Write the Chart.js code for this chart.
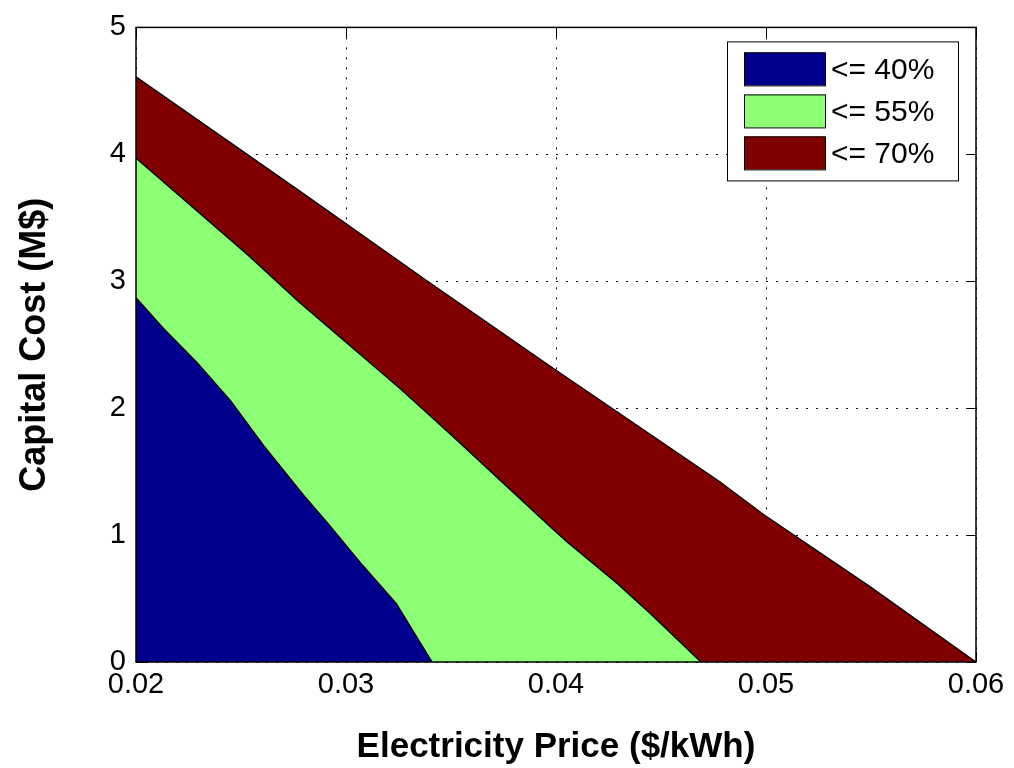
<!DOCTYPE html>
<html>
<head>
<meta charset="utf-8">
<title>Capital Cost vs Electricity Price</title>
<script src="https://cdn.jsdelivr.net/npm/chart.js@4.4.1/dist/chart.umd.min.js"></script>
<style>
    html, body { margin: 0; padding: 0; background: #fff; }
    .chart-container { width: 1014px; height: 768px; position: relative; }
</style>
</head>
<body>

<div class="chart-container">
    <canvas id="chart"></canvas>
</div>

<script>

// contour boundaries (x = $/kWh, y = M$)
const blueX = [ 0.02, 0.0213, 0.0229, 0.0245, 0.0261, 0.028, 0.0292, 0.0308, 0.0324, 0.0341 ];
const blueY = [ 2.87, 2.63, 2.36, 2.06, 1.70, 1.31, 1.08, 0.76, 0.46, 0 ];

const greenX = [ 0.02, 0.0253, 0.0278, 0.0326, 0.035, 0.0397, 0.0405, 0.0429, 0.0445, 0.0469 ];
const greenY = [ 3.97, 3.21, 2.83, 2.15, 1.79, 1.07, 0.95, 0.62, 0.38, 0 ];

const redX = [ 0.02, 0.0278, 0.0338, 0.0399, 0.0478, 0.0499, 0.0549, 0.06 ];
const redY = [ 4.61, 3.71, 3.01, 2.31, 1.42, 1.16, 0.60, 0 ];

const seriesLabels = [ '<= 40%', '<= 55%', '<= 70%' ];

const xTicks = [ 0.02, 0.03, 0.04, 0.05, 0.06 ];
const xTickLabels = [ '0.02', '0.03', '0.04', '0.05', '0.06' ];
const yTicks = [ 0, 1, 2, 3, 4, 5 ];
const yTickLabels = [ '0', '1', '2', '3', '4', '5' ];

const FONT = 'Arial, "Liberation Sans", sans-serif';

function toPoints ( xs, ys ) {
    return xs.map( ( x, i ) => ( { x, y: ys[ i ] } ) );
}

// matlab style frame: inward ticks under the patches, box on top
const framePlugin = {
    id: 'frame',
    beforeDatasetsDraw ( chart ) {
        const { ctx, chartArea: a, scales } = chart;
        const len = 10;
        ctx.save();
        ctx.strokeStyle = '#000';
        ctx.lineWidth = 1;
        ctx.beginPath();
        scales.x.ticks.forEach( t => {
            const px = Math.round( scales.x.getPixelForValue( t.value ) ) + 0.5;
            ctx.moveTo( px, a.bottom ); ctx.lineTo( px, a.bottom - len );
            ctx.moveTo( px, a.top ); ctx.lineTo( px, a.top + len );
        } );
        scales.y.ticks.forEach( t => {
            const py = Math.round( scales.y.getPixelForValue( t.value ) ) + 0.5;
            ctx.moveTo( a.left, py ); ctx.lineTo( a.left + len, py );
            ctx.moveTo( a.right, py ); ctx.lineTo( a.right - len, py );
        } );
        ctx.stroke();
        ctx.restore();
    },
    afterDatasetsDraw ( chart ) {
        const { ctx, chartArea: a } = chart;
        ctx.save();
        ctx.strokeStyle = '#000';
        ctx.lineWidth = 1.5;
        ctx.strokeRect( a.left, a.top, a.right - a.left, a.bottom - a.top );
        ctx.restore();
    }
};

// legend box inside the axes, top right
const boxLegendPlugin = {
    id: 'boxLegend',
    afterDraw ( chart ) {
        const { ctx, chartArea: a } = chart;
        const w = 231, h = 139;
        const left = a.right - 18 - w;
        const top = a.top + 14;
        ctx.save();
        ctx.fillStyle = '#fff';
        ctx.fillRect( left, top, w, h );
        ctx.strokeStyle = '#000';
        ctx.lineWidth = 1;
        ctx.strokeRect( left + 0.5, top + 0.5, w, h );
        ctx.font = '30px ' + FONT;
        ctx.textBaseline = 'middle';
        chart.data.datasets.forEach( ( ds, i ) => {
            const sy = top + 11 + i * 42;
            ctx.fillStyle = ds.backgroundColor;
            ctx.fillRect( left + 17, sy, 81, 33 );
            ctx.strokeStyle = '#000';
            ctx.strokeRect( left + 17.5, sy + 0.5, 81, 33 );
            ctx.fillStyle = '#000';
            ctx.fillText( ds.label, left + 104, sy + 18 );
        } );
        ctx.restore();
    }
};

document.addEventListener( 'DOMContentLoaded', function () {

    Chart.defaults.animation = false;
    Chart.defaults.responsive = true;
    Chart.defaults.maintainAspectRatio = false;
    Chart.defaults.font.family = FONT;
    Chart.defaults.color = '#000';

    const common = {
        showLine: true,
        fill: 'origin',
        pointRadius: 0,
        pointHoverRadius: 0,
        borderColor: '#000',
        borderWidth: 1.3,
        tension: 0
    };

    new Chart( document.getElementById( 'chart' ), {
        type: 'scatter',
        data: {
            datasets: [ {
                ...common,
                label: seriesLabels[ 0 ],
                data: toPoints( blueX, blueY ),
                backgroundColor: '#00008c'
            }, {
                ...common,
                label: seriesLabels[ 1 ],
                data: toPoints( greenX, greenY ),
                backgroundColor: '#8cff74'
            }, {
                ...common,
                label: seriesLabels[ 2 ],
                data: toPoints( redX, redY ),
                backgroundColor: '#800000'
            } ]
        },
        options: {
            layout: { padding: { top: 22, right: 38, bottom: 0, left: 0 } },
            plugins: {
                legend: { display: false },
                tooltip: { enabled: false }
            },
            scales: {
                x: {
                    type: 'linear',
                    min: 0.02, max: 0.06,
                    afterBuildTicks: s => { s.ticks = xTicks.map( v => ( { value: v } ) ); },
                    afterFit: s => { s.height = 106; },
                    ticks: {
                        font: { size: 29 },
                        padding: 6,
                        maxRotation: 0,
                        callback: ( v, i ) => xTickLabels[ i ]
                    },
                    grid: { color: '#000', lineWidth: 1, drawTicks: false },
                    border: { display: false, dash: [ 2, 8 ] },
                    title: {
                        display: true,
                        text: 'Electricity Price ($/kWh)',
                        font: { size: 35, weight: 'bold' },
                        padding: { top: 0, bottom: 0 }
                    }
                },
                y: {
                    type: 'linear',
                    min: 0, max: 5,
                    afterBuildTicks: s => { s.ticks = yTicks.map( v => ( { value: v } ) ); },
                    afterFit: s => { s.width = 136; },
                    ticks: {
                        font: { size: 29 },
                        padding: 10,
                        callback: ( v, i ) => yTickLabels[ i ]
                    },
                    grid: { color: '#000', lineWidth: 1, drawTicks: false },
                    border: { display: false, dash: [ 2, 8 ] },
                    title: {
                        display: true,
                        text: 'Capital Cost (M$)',
                        font: { size: 36, weight: 'bold' },
                        padding: { top: 13, bottom: 0 }
                    }
                }
            }
        },
        plugins: [ framePlugin, boxLegendPlugin ]
    } );

} );

</script>
</body>
</html>
